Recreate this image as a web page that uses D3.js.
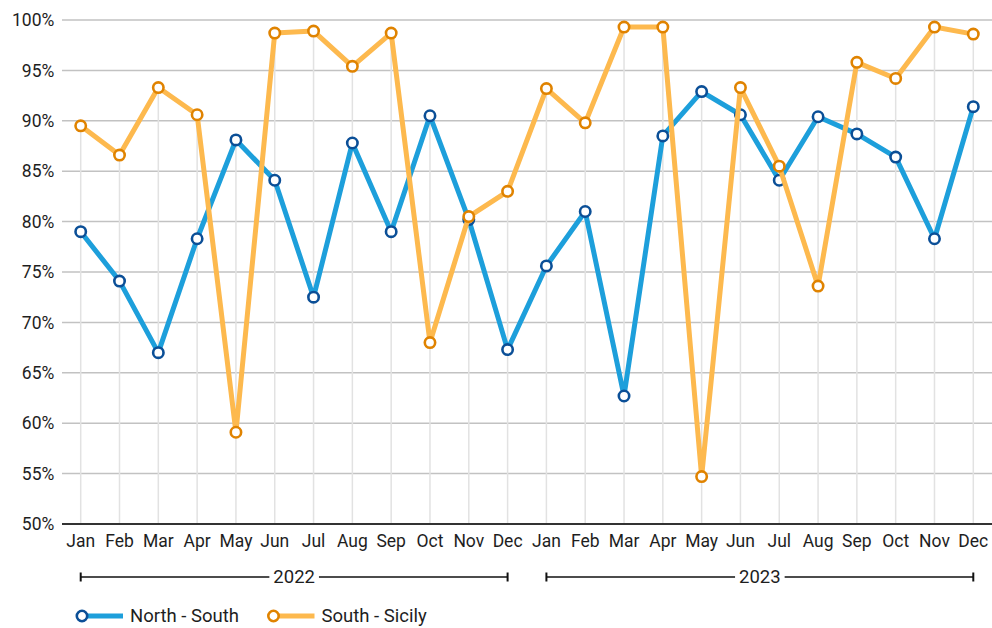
<!DOCTYPE html>
<html>
<head>
<meta charset="utf-8">
<script src="https://cdn.jsdelivr.net/npm/d3@7"></script>
<style>
  html, body { margin: 0; padding: 0; background: #fff; }
  svg { display: block; font-family: Roboto, "Noto Sans", sans-serif; }
</style>
</head>
<body>
<svg id="chart" width="992" height="628"></svg>
<script>
const months = ["Jan","Feb","Mar","Apr","May","Jun","Jul","Aug","Sep","Oct","Nov","Dec"];
const years = ["2022","2023"];
const categories = years.flatMap(y => months.map(m => y + "-" + m));
const northSouth = [79.0, 74.1, 67.0, 78.3, 88.1, 84.1, 72.5, 87.8, 79.0, 90.5, 80.2, 67.3,
                    75.6, 81.0, 62.7, 88.5, 92.9, 90.6, 84.1, 90.4, 88.7, 86.4, 78.3, 91.4];
const southSicily = [89.5, 86.6, 93.3, 90.6, 59.1, 98.7, 98.9, 95.4, 98.7, 68.0, 80.5, 83.0,
                     93.2, 89.8, 99.3, 99.3, 54.7, 93.3, 85.5, 73.6, 95.8, 94.2, 99.3, 98.6];
const yTicks = [50, 55, 60, 65, 70, 75, 80, 85, 90, 95, 100];
const seriesNames = ["North - South", "South - Sicily"];

const colors = {
  ns: { line: "#1d9fdb", marker: "#0b4f97" },
  ss: { line: "#fdb94e", marker: "#e08300" }
};

const svg = d3.select("#chart");
const mLeft = 61.3, mRight = 992.7, mTop = 20, mBottom = 524;

const x = d3.scaleBand().domain(categories).range([mLeft, mRight]).padding(0);
const cx = c => x(c) + x.bandwidth() / 2;
const y = d3.scaleLinear().domain([50, 100]).range([mBottom, mTop]);

// horizontal gridlines
svg.append("g").selectAll("line").data(yTicks.filter(t => t > 50)).join("line")
  .attr("x1", 62).attr("x2", 992)
  .attr("y1", d => y(d)).attr("y2", d => y(d))
  .attr("stroke", "#c2c2c2").attr("stroke-width", 1.5);

// vertical drop lines from max value to baseline
svg.append("g").selectAll("line").data(categories).join("line")
  .attr("x1", c => cx(c)).attr("x2", c => cx(c))
  .attr("y1", (c, i) => y(Math.max(northSouth[i], southSicily[i])))
  .attr("y2", mBottom)
  .attr("stroke", "#e2e2e2").attr("stroke-width", 1.5);

// y axis
const yAxis = svg.append("g").attr("transform", `translate(${mLeft},0)`)
  .call(d3.axisLeft(y).tickValues(yTicks).tickFormat(d => d + "%").tickSize(0).tickPadding(7));
yAxis.select(".domain").remove();
yAxis.selectAll("text").attr("font-size", 17.5).attr("fill", "#1e1e1e").attr("font-family", "Roboto, sans-serif");

// x axis
const xAxis = svg.append("g").attr("transform", `translate(0,${mBottom})`)
  .call(d3.axisBottom(x).tickFormat(c => c.split("-")[1]).tickSize(0).tickPadding(11));
xAxis.select(".domain").remove();
xAxis.selectAll("text").attr("font-size", 17.5).attr("fill", "#1e1e1e").attr("font-family", "Roboto, sans-serif");

svg.append("line").attr("x1", 62).attr("x2", 992).attr("y1", mBottom).attr("y2", mBottom)
  .attr("stroke", "#333").attr("stroke-width", 2);

// year brackets
years.forEach(yr => {
  const x0 = cx(yr + "-Jan"), x1 = cx(yr + "-Dec"), yy = 577;
  const g = svg.append("g");
  const t = g.append("text").attr("x", (x0 + x1) / 2).attr("y", yy)
    .attr("text-anchor", "middle").attr("dominant-baseline", "central")
    .attr("font-size", 18.5).attr("fill", "#1e1e1e").text(yr);
  const bb = t.node().getBBox();
  g.insert("line", "text").attr("x1", x0).attr("x2", bb.x - 4).attr("y1", yy).attr("y2", yy)
    .attr("stroke", "#111").attr("stroke-width", 1.5);
  g.insert("line", "text").attr("x1", bb.x + bb.width + 4).attr("x2", x1).attr("y1", yy).attr("y2", yy)
    .attr("stroke", "#111").attr("stroke-width", 1.5);
  [x0, x1].forEach(xx => g.append("line").attr("x1", xx).attr("x2", xx)
    .attr("y1", yy - 4.5).attr("y2", yy + 4.5).attr("stroke", "#111").attr("stroke-width", 2));
});

// series
const line = d3.line().x((d, i) => cx(categories[i])).y(d => y(d));
[[northSouth, colors.ns], [southSicily, colors.ss]].forEach(([vals, col]) => {
  const g = svg.append("g");
  g.append("path").datum(vals).attr("d", line).attr("fill", "none")
    .attr("stroke", col.line).attr("stroke-width", 5).attr("stroke-linejoin", "round");
  g.selectAll("circle").data(vals).join("circle")
    .attr("cx", (d, i) => cx(categories[i])).attr("cy", d => y(d)).attr("r", 5.2)
    .attr("fill", "#fff").attr("stroke", col.marker).attr("stroke-width", 2.6);
});

// legend
const legendItems = [
  { name: seriesNames[0], col: colors.ns, x: 82 },
  { name: seriesNames[1], col: colors.ss, x: 273.5 }
];
legendItems.forEach(it => {
  const g = svg.append("g").attr("transform", `translate(${it.x},616)`);
  g.append("line").attr("x1", 0).attr("x2", 41).attr("y1", 0).attr("y2", 0)
    .attr("stroke", it.col.line).attr("stroke-width", 5);
  g.append("circle").attr("r", 5.2).attr("fill", "#fff")
    .attr("stroke", it.col.marker).attr("stroke-width", 2.6);
  g.append("text").attr("x", 48).attr("y", 0).attr("dominant-baseline", "central")
    .attr("font-size", 18.5).attr("fill", "#1e1e1e").text(it.name);
});
</script>
</body>
</html>
